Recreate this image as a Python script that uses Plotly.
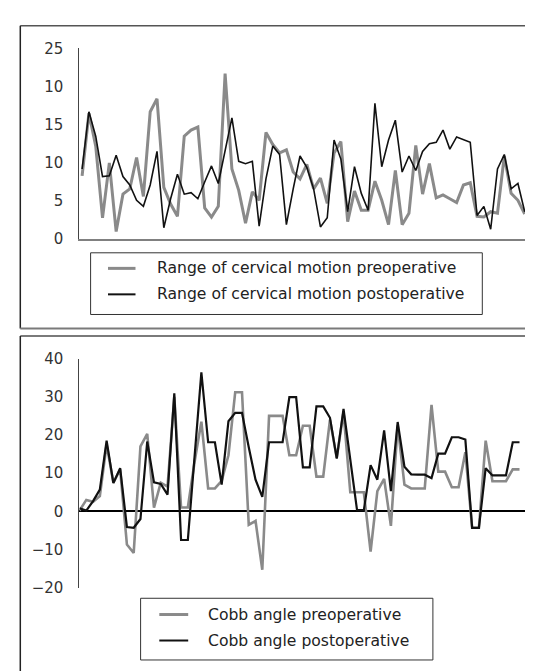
import plotly.graph_objects as go

# ---------------- data ----------------
patients = list(range(66))

rom_pre = [8.3, 16.5, 12.2, 2.8, 10.0, 1.0, 5.9, 6.6, 10.7, 5.6, 16.7, 18.4, 6.8, 4.6, 3.0,
           13.5, 14.3, 14.7, 4.1, 2.9, 4.3, 21.7, 9.2, 6.4, 2.1, 6.2, 5.1, 14.0, 12.4, 11.3,
           11.7, 8.8, 7.9, 9.8, 6.6, 8.0, 4.7, 11.3, 12.8, 2.3, 6.3, 3.8, 3.8, 7.6, 5.1,
           1.9, 9.0, 1.9, 3.4, 12.3, 5.9, 9.9, 5.4, 5.8, 5.3, 4.8, 7.1, 7.4, 3.0, 2.9,
           3.6, 3.4, 10.9, 6.0, 5.1, 3.3]

rom_post = [9.2, 16.7, 13.5, 8.2, 8.3, 11.0, 8.2, 7.1, 5.1, 4.3, 7.1, 11.5, 1.5, 5.3, 8.5,
            5.9, 6.1, 5.3, 7.5, 9.6, 7.3, 11.8, 15.9, 10.2, 9.9, 10.2, 1.7, 7.9, 12.2, 11.1,
            1.9, 6.6, 10.9, 9.4, 6.6, 1.6, 2.8, 13.0, 10.5, 3.6, 9.5, 6.0, 3.8, 17.8, 9.5,
            13.0, 15.6, 8.8, 10.9, 9.0, 11.5, 12.5, 12.7, 14.3, 11.8, 13.4, 13.1, 12.7, 3.1, 4.3,
            1.3, 9.2, 11.1, 6.6, 7.3, 3.6]

cobb_pre = [0.2, 3.0, 2.5, 4.0, 17.5, 7.5, 11.0, -8.7, -10.9, 17.0, 20.3, 1.0, 7.5, 6.5, 30.0,
            1.0, 1.0, 13.0, 23.5, 6.0, 6.0, 8.0, 14.7, 31.2, 31.2, -3.5, -2.5, -15.3, 25.0, 25.0,
            25.0, 14.7, 14.7, 22.4, 22.4, 9.1, 9.1, 24.0, 14.0, 26.0, 5.0, 5.0, 5.0, -10.5, 5.3,
            8.5, -3.8, 22.5, 7.0, 6.0, 6.0, 6.0, 27.9, 10.4, 10.4, 6.3, 6.3, 15.5, -4.3, -4.3,
            18.5, 7.9, 7.9, 7.9, 11.0, 11.0]

cobb_post = [0.8, 0.2, 2.7, 5.7, 18.5, 7.4, 11.3, -4.1, -4.3, -2.0, 18.3, 7.6, 7.2, 4.4, 30.9,
             -7.5, -7.5, 14.7, 36.4, 18.1, 18.1, 7.0, 23.6, 25.8, 25.8, 16.8, 8.3, 3.8, 18.1, 18.1,
             18.1, 29.9, 29.9, 11.5, 11.5, 27.5, 27.5, 24.5, 13.8, 26.8, 13.8, 0.3, 0.3, 12.1, 8.3,
             21.2, 5.3, 23.4, 11.7, 9.7, 9.6, 9.6, 8.7, 15.1, 15.1, 19.4, 19.4, 18.8, -4.3, -4.3,
             11.3, 9.4, 9.4, 9.4, 18.1, 18.1]

top_tickvals = [0, 5, 10, 15, 20, 25]
top_ticktext = ["0", "5", "10", "15", "10", "25"]
bot_tickvals = [-20, -10, 0, 10, 20, 30, 40]
bot_ticktext = ["\u221220", "\u221210", "0", "10", "20", "30", "40"]

top_labels = ["Range of cervical motion preoperative", "Range of cervical motion postoperative"]
bot_labels = ["Cobb angle preoperative", "Cobb angle postoperative"]

# ---------------- styling ----------------
W, H = 533, 671
GRAY = "#8a8a8a"
BLACK = "#111111"
FONT = "DejaVu Sans"


def px(x):
    return x / W


def py(y):
    return 1 - y / H


fig = go.Figure()

fig.add_trace(go.Scatter(x=patients, y=rom_pre, mode="lines", name=top_labels[0],
                         line=dict(color=GRAY, width=3), showlegend=False,
                         xaxis="x", yaxis="y"))
fig.add_trace(go.Scatter(x=patients, y=rom_post, mode="lines", name=top_labels[1],
                         line=dict(color=BLACK, width=1.6), showlegend=False,
                         xaxis="x", yaxis="y"))
fig.add_trace(go.Scatter(x=patients, y=cobb_pre, mode="lines", name=bot_labels[0],
                         line=dict(color=GRAY, width=2.6), showlegend=False,
                         xaxis="x2", yaxis="y2"))
fig.add_trace(go.Scatter(x=patients, y=cobb_post, mode="lines", name=bot_labels[1],
                         line=dict(color=BLACK, width=2.2), showlegend=False,
                         xaxis="x2", yaxis="y2"))

tickfont = dict(family=FONT, size=15, color="#333333")

fig.update_layout(
    width=W, height=H,
    margin=dict(l=0, r=0, t=0, b=0),
    paper_bgcolor="white", plot_bgcolor="white",
    showlegend=False,
    xaxis=dict(domain=[px(71.4), px(523.4)], range=[-0.397, 65.98],
               showline=True, linecolor="#808080", linewidth=1.5,
               showgrid=False, zeroline=False, showticklabels=False, ticks="",
               anchor="y"),
    yaxis=dict(domain=[py(228.3), py(32.3)], range=[0, 25],
               tickvals=top_tickvals, ticktext=top_ticktext, tickfont=tickfont,
               showline=True, linecolor="#444444", linewidth=1,
               showgrid=False, zeroline=False, ticks="", ticklabelstandoff=12,
               anchor="x"),
    xaxis2=dict(domain=[px(71.4), px(528.5)], range=[-0.02, 67.51],
                showline=False, showgrid=False, zeroline=False,
                showticklabels=False, ticks="", anchor="y2"),
    yaxis2=dict(domain=[py(586.5), py(351)], range=[-20, 40],
                tickvals=bot_tickvals, ticktext=bot_ticktext, tickfont=tickfont,
                showline=True, linecolor="#444444", linewidth=1,
                showgrid=False, zeroline=True, zerolinecolor="#000000", zerolinewidth=2,
                ticks="", ticklabelstandoff=12, anchor="x2"),
)

shapes = []


def hline(y, x0, x1, color, width):
    shapes.append(dict(type="line", xref="paper", yref="paper",
                       x0=px(x0), x1=px(x1), y0=py(y), y1=py(y),
                       line=dict(color=color, width=width)))


def vline(x, y0, y1, color, width):
    shapes.append(dict(type="line", xref="paper", yref="paper",
                       x0=px(x), x1=px(x), y0=py(y0), y1=py(y1),
                       line=dict(color=color, width=width)))


def rect(x0, y0, x1, y1):
    shapes.append(dict(type="rect", xref="paper", yref="paper",
                       x0=px(x0), x1=px(x1), y0=py(y1), y1=py(y0),
                       line=dict(color="#333333", width=1), fillcolor="rgba(0,0,0,0)"))


# panel borders
hline(9, 12.3, 545, "#555555", 1.5)
vline(12.3, 9, 320, "#222222", 1.5)
hline(320, 12.3, 545, "#7a7a7a", 2)
hline(327.7, 12.3, 545, "#7a7a7a", 2)
vline(12.3, 327.7, 680, "#222222", 1.5)

# legend boxes
rect(82.6, 242.3, 474.3, 305.7)
rect(132.6, 597.3, 424.9, 660.7)

# legend samples
hline(258.3, 100, 127.5, GRAY, 3)
hline(285.0, 100, 127.5, BLACK, 2)
hline(614.0, 151.3, 180.2, GRAY, 3)
hline(640.7, 151.3, 180.2, BLACK, 2)

fig.update_layout(shapes=shapes)

legfont = dict(family=FONT, size=15.6, color="#222222")
annotations = []
for label, y in zip(top_labels, [258.3, 285.0]):
    annotations.append(dict(text=label, xref="paper", yref="paper", x=px(147.2), y=py(y),
                            xanchor="left", yanchor="middle", showarrow=False, font=legfont))
for label, y in zip(bot_labels, [614.0, 640.7]):
    annotations.append(dict(text=label, xref="paper", yref="paper", x=px(198.2), y=py(y),
                            xanchor="left", yanchor="middle", showarrow=False, font=legfont))
fig.update_layout(annotations=annotations)

fig.write_html("out.html")
